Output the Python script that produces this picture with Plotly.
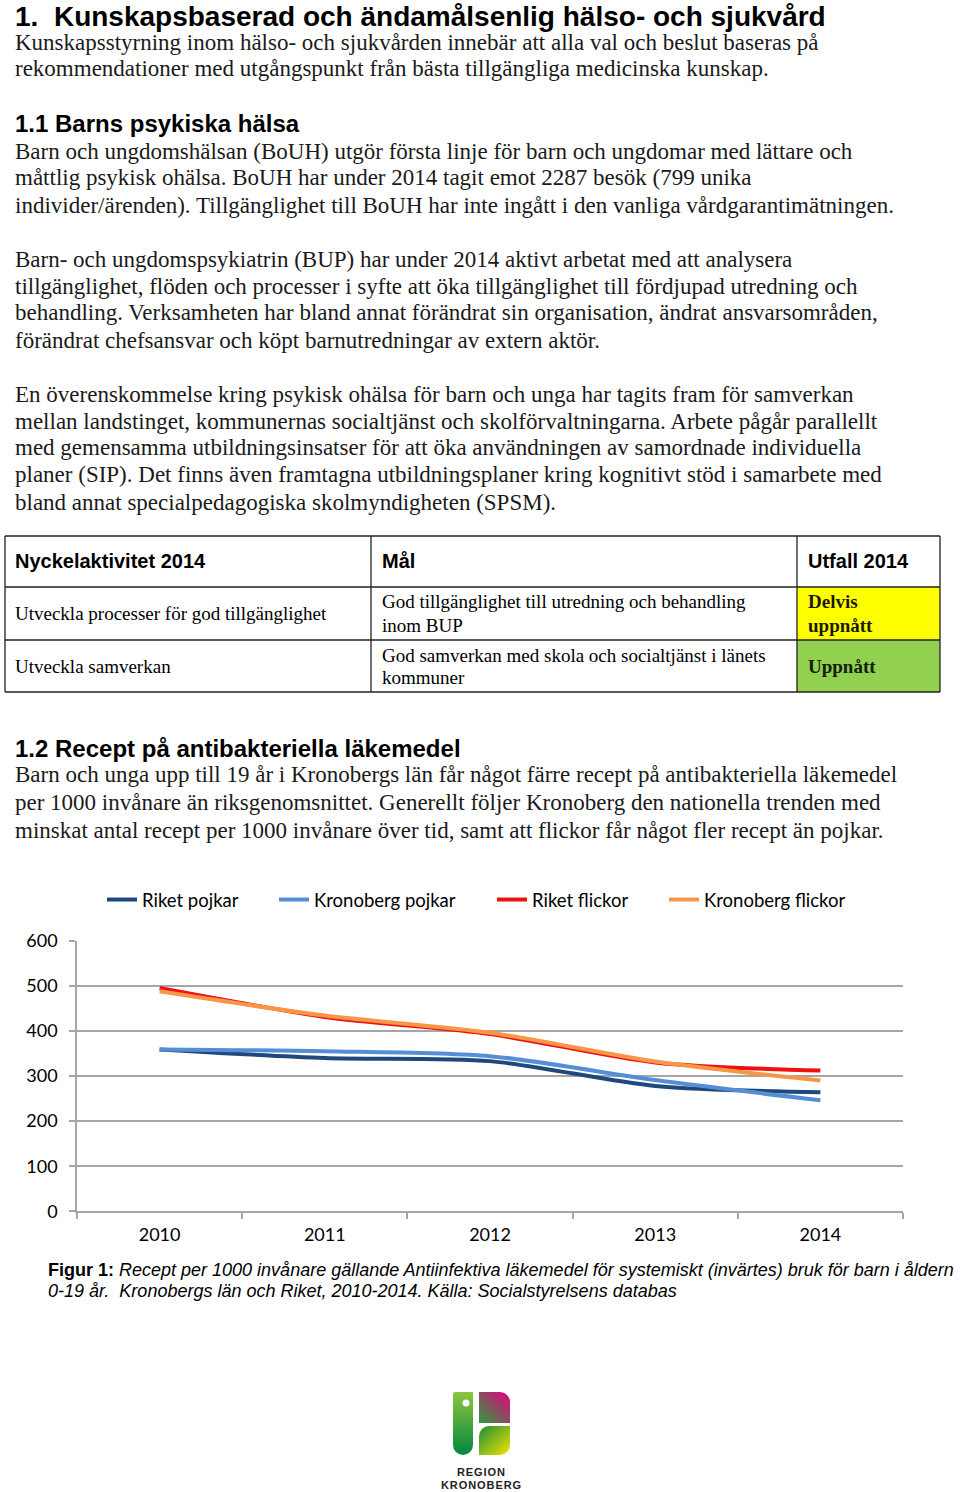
import base64
import plotly.graph_objects as go

W, H = 960, 1492

years = ["2010", "2011", "2012", "2013", "2014"]
riket_pojkar = [359, 340, 333, 278, 264]
kronoberg_pojkar = [359, 355, 344, 291, 246]
riket_flickor = [495, 431, 393, 330, 312]
kronoberg_flickor = [488, 434, 396, 332, 290]

series_names = ["Riket pojkar", "Kronoberg pojkar", "Riket flickor", "Kronoberg flickor"]
series_colors = ["#1F497D", "#558ED5", "#EE1111", "#F79646"]
y_ticks = [0, 100, 200, 300, 400, 500, 600]

SERIF = "Liberation Serif, Times New Roman, serif"
SANS = "Liberation Sans, Arial, sans-serif"
CAL = "Lato, Carlito, Calibri, sans-serif"

legend_ids = ["legend", "legend2", "legend3", "legend4"]
legend_x_px = [102, 274, 492, 664]

fig = go.Figure()
for name, vals, col, lid in zip(series_names,
                                [riket_pojkar, kronoberg_pojkar, riket_flickor, kronoberg_flickor],
                                series_colors, legend_ids):
    fig.add_trace(go.Scatter(x=years, y=vals, name=name, mode="lines", legend=lid,
                             line=dict(color=col, width=4, shape="spline", smoothing=0.8)))

ann = []


def txt(s, x, y, size, family, color="#000", anchor="left", yanchor="middle", yval=None):
    ann.append(dict(text=s, x=x / W, y=(1 - y / H) if yval is None else yval, xref="paper", yref="paper",
                    xanchor=anchor, yanchor=yanchor, showarrow=False, borderpad=0,
                    font=dict(size=size, family=family, color=color)))


BODY = 23
txt("<b>1.\u00a0 Kunskapsbaserad och ändamålsenlig hälso- och sjukvård</b>", 14, 0, 28, SANS,
    yanchor="top", yval=1.0)
body1 = [
    (42, "Kunskapsstyrning inom hälso- och sjukvården innebär att alla val och beslut baseras på"),
    (69, "rekommendationer med utgångspunkt från bästa tillgängliga medicinska kunskap."),
]
txt("<b>1.1 Barns psykiska hälsa</b>", 14, 123, 24, SANS)
body2 = [
    (151, "Barn och ungdomshälsan (BoUH) utgör första linje för barn och ungdomar med lättare och"),
    (178, "måttlig psykisk ohälsa. BoUH har under 2014 tagit emot 2287 besök (799 unika"),
    (205, "individer/ärenden). Tillgänglighet till BoUH har inte ingått i den vanliga vårdgarantimätningen."),
    (259, "Barn- och ungdomspsykiatrin (BUP) har under 2014 aktivt arbetat med att analysera"),
    (286, "tillgänglighet, flöden och processer i syfte att öka tillgänglighet till fördjupad utredning och"),
    (313, "behandling. Verksamheten har bland annat förändrat sin organisation, ändrat ansvarsområden,"),
    (340, "förändrat chefsansvar och köpt barnutredningar av extern aktör."),
    (394, "En överenskommelse kring psykisk ohälsa för barn och unga har tagits fram för samverkan"),
    (421, "mellan landstinget, kommunernas socialtjänst och skolförvaltningarna. Arbete pågår parallellt"),
    (448, "med gemensamma utbildningsinsatser för att öka användningen av samordnade individuella"),
    (475, "planer (SIP). Det finns även framtagna utbildningsplaner kring kognitivt stöd i samarbete med"),
    (502, "bland annat specialpedagogiska skolmyndigheten (SPSM)."),
]
txt("<b>1.2 Recept på antibakteriella läkemedel</b>", 14, 748, 24, SANS)
body3 = [
    (775, "Barn och unga upp till 19 år i Kronobergs län får något färre recept på antibakteriella läkemedel"),
    (802, "per 1000 invånare än riksgenomsnittet. Generellt följer Kronoberg den nationella trenden med"),
    (830, "minskat antal recept per 1000 invånare över tid, samt att flickor får något fler recept än pojkar."),
]
for y, s in body1 + body2 + body3:
    txt(s, 14, y, BODY, SERIF, color="#1a1a1a")

# Table
shapes = []
shapes.append(dict(type="rect", xref="paper", yref="paper", x0=797 / W, x1=940 / W,
                   y0=1 - 640 / H, y1=1 - 587 / H, fillcolor="#FFFF00", line=dict(width=0), layer="below"))
shapes.append(dict(type="rect", xref="paper", yref="paper", x0=797 / W, x1=940 / W,
                   y0=1 - 692 / H, y1=1 - 640 / H, fillcolor="#92D050", line=dict(width=0), layer="below"))
for yy in [536, 587, 640, 692]:
    shapes.append(dict(type="line", xref="paper", yref="paper", x0=5 / W, x1=940 / W,
                       y0=1 - yy / H, y1=1 - yy / H, line=dict(color="#222", width=1.3)))
for xx in [5, 371, 797, 940]:
    shapes.append(dict(type="line", xref="paper", yref="paper", x0=xx / W, x1=xx / W,
                       y0=1 - 692 / H, y1=1 - 536 / H, line=dict(color="#222", width=1.3)))

TH = 20
TB = 19
txt("<b>Nyckelaktivitet 2014</b>", 14, 561, TH, SANS)
txt("<b>Mål</b>", 381, 561, TH, SANS)
txt("<b>Utfall 2014</b>", 807, 561, TH, SANS)
txt("Utveckla processer för god tillgänglighet", 14, 613, TB, SERIF)
txt("God tillgänglighet till utredning och behandling", 381, 602, TB, SERIF)
txt("inom BUP", 381, 625, TB, SERIF)
txt("<b>Delvis</b>", 807, 602, TB, SERIF, color="#1a1a00")
txt("<b>uppnått</b>", 807, 625, TB, SERIF, color="#1a1a00")
txt("Utveckla samverkan", 14, 666, TB, SERIF)
txt("God samverkan med skola och socialtjänst i länets", 381, 655, TB, SERIF)
txt("kommuner", 381, 677, TB, SERIF)
txt("<b>Uppnått</b>", 807, 666, TB, SERIF, color="#10200a")

# Caption
txt("<b>Figur 1:</b> <i>Recept per 1000 invånare gällande Antiinfektiva läkemedel för systemiskt (invärtes) bruk för barn i åldern</i>",
    47, 1270, 18, SANS)
txt("<i>0-19 år.  Kronobergs län och Riket, 2010-2014. Källa: Socialstyrelsens databas</i>", 47, 1291, 18, SANS)

# Logo text
txt("<b>R\u200aE\u200aG\u200aI\u200aO\u200aN</b>", 481, 1472, 11, SANS, color="#222", anchor="center")
txt("<b>K\u200aR\u200aO\u200aN\u200aO\u200aB\u200aE\u200aR\u200aG</b>", 481, 1485, 11, SANS, color="#222", anchor="center")

svg = """<svg xmlns='http://www.w3.org/2000/svg' width='60' height='66' viewBox='0 0 60 66'>
<defs>
<linearGradient id='g1' x1='0' y1='0' x2='0' y2='1'><stop offset='0' stop-color='#8DC63F'/><stop offset='1' stop-color='#00873E'/></linearGradient>
<linearGradient id='g2' x1='1' y1='0' x2='0' y2='1'><stop offset='0' stop-color='#E5007E'/><stop offset='1' stop-color='#2E9A3F'/></linearGradient>
<linearGradient id='g3' x1='0' y1='0' x2='1' y2='1'><stop offset='0' stop-color='#1E8C3C'/><stop offset='1' stop-color='#F2E600'/></linearGradient>
</defs>
<path d='M1,4 Q1,2 3,2 H21 V55 A10,10 0 0 1 11,65 A10,10 0 0 1 1,55 Z' fill='url(#g1)'/>
<circle cx='14' cy='13' r='3.5' fill='#fff'/>
<path d='M27,2 H48 A10,10 0 0 1 58,12 V33 H27 Z' fill='url(#g2)'/>
<path d='M37,36 H58 V55 A10,10 0 0 1 48,65 H27 V46 A10,10 0 0 1 37,36 Z' fill='url(#g3)'/>
</svg>"""
src = "data:image/svg+xml;base64," + base64.b64encode(svg.encode()).decode()

legends = {}
for lid, lx in zip(legend_ids, legend_x_px):
    legends[lid] = dict(orientation="h", x=lx / W, y=1 - 900 / H, xanchor="left", yanchor="middle",
                        font=dict(family=CAL, size=18.5, color="#000"), bgcolor="rgba(0,0,0,0)")

fig.update_layout(
    width=W, height=H, margin=dict(l=0, r=0, t=0, b=0, autoexpand=False),
    paper_bgcolor="white", plot_bgcolor="white",
    annotations=ann, shapes=shapes,
    images=[dict(source=src, xref="paper", yref="paper", x=452 / W, y=1 - 1390 / H,
                 sizex=60 / W, sizey=66 / H, xanchor="left", yanchor="top", sizing="stretch", layer="above")],
    showlegend=True,
    xaxis=dict(type="category", domain=[77 / W, 903 / W], range=[-0.5, 4.5],
               showline=True, linecolor="#A6A6A6", linewidth=1.5, showgrid=False,
               ticks="outside", tickson="boundaries", ticklen=6, tickcolor="#A6A6A6", tickwidth=1.5,
               tickfont=dict(family=CAL, size=18, color="#000"), ticklabelstandoff=6, automargin=False),
    yaxis=dict(domain=[1 - 1211.3 / H, 1 - 940.7 / H], range=[0, 600], tickvals=y_ticks,
               showline=True, linecolor="#A6A6A6", linewidth=1.5,
               showgrid=True, gridcolor="#A6A6A6", gridwidth=1.5, zeroline=False,
               ticks="outside", ticklen=6, tickcolor="#A6A6A6", tickwidth=1.5,
               tickfont=dict(family=CAL, size=18, color="#000"), ticklabelstandoff=8, automargin=False),
    **legends,
)

fig.write_html("out.html", config={"displayModeBar": False},
               post_script="document.body.style.margin='0';")
